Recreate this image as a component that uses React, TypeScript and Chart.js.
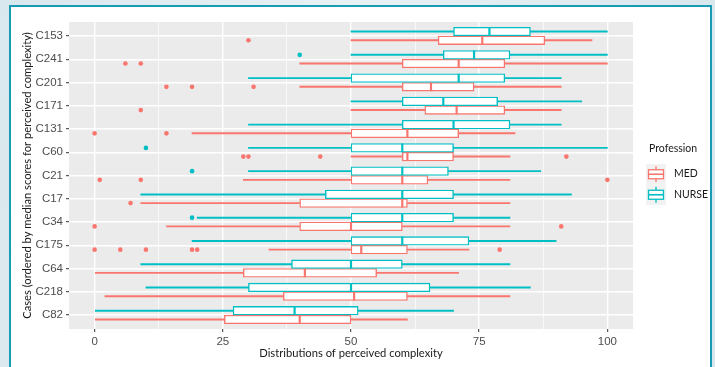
import React, { useEffect, useRef } from 'react';
import { Chart, registerables } from 'chart.js';

Chart.register(...registerables);

// ---------- DATA ----------
const cases = ['C153', 'C241', 'C201', 'C171', 'C131', 'C60', 'C21', 'C17', 'C34', 'C175', 'C64', 'C218', 'C82'];

const xGridValues = [0, 12.5, 25, 37.5, 50, 62.5, 75, 87.5, 100];
const xTickLabels = [0, 25, 50, 75, 100];

// NURSE five-number summaries (per case, same order as `cases`)
const nurseMin = [50, 50, 30, 50, 30, 30, 30, 9, 20, 19, 9, 10, 0];
const nurseQ1 = [70, 68, 50, 60, 60, 50, 50, 45, 50, 50, 38.4, 30, 27];
const nurseMedian = [77, 74, 71, 68, 70, 60, 60, 60, 60, 60, 50, 50, 39];
const nurseQ3 = [85, 81, 80, 78.6, 81, 70, 69, 70, 70, 73, 60, 65.4, 51.4];
const nurseMax = [100, 100, 91, 95, 91, 100, 87, 93, 81, 90, 81, 85, 70];
const nurseOutliers = [[], [40], [], [], [], [10], [19], [], [19], [], [], [], []];

// MED five-number summaries
const medMin = [50, 40, 40, 50, 19, 50, 29, 9, 14, 34, 0, 2, 0];
const medQ1 = [67, 60, 60, 64.4, 50, 60, 50, 40, 40, 50, 29, 36.8, 25.3];
const medMedian = [75.6, 71, 65.6, 70.6, 61, 61, 60, 60, 50, 52, 41, 50.6, 40];
const medQ3 = [87.8, 80, 74, 80, 71, 70, 65, 61, 60, 61, 55, 61, 50];
const medMax = [97, 100, 91, 91, 82, 81, 81, 81, 81, 73, 71, 81, 61];
const medOutliers = [[30], [6, 9], [14, 19, 31], [9], [0, 14], [29, 30, 44, 92], [1, 9, 100], [7], [0, 91], [0, 5, 10, 19, 20, 79], [], [], []];

const groups = ['MED', 'NURSE'];

// ---------- STYLE ----------
const MED_COLOR = '#F8766D';
const NURSE_COLOR = '#00BFC4';
const DODGE = 0.1875; // half of dodge width (0.75 / 4)
const BOX_PX = 8.7;

const TICK_FONT = { family: '"Liberation Sans", Arial, sans-serif', size: 11.5 };
const TITLE_FONT = { family: 'Lato, "Open Sans", sans-serif', size: 11.2 };

function buildGroupDatasets(
  label: string,
  color: string,
  offset: number,
  mins: number[],
  q1s: number[],
  meds: number[],
  q3s: number[],
  maxs: number[],
  outs: number[][]
) {
  const pos = (i: number) => i + offset;
  return [
    {
      type: 'bar' as const,
      label: label + ' whisker',
      indexAxis: 'y' as const,
      grouped: false,
      data: cases.map((_, i) => ({ x: [mins[i], maxs[i]], y: pos(i) })),
      backgroundColor: color,
      borderWidth: 0,
      barThickness: 1.3,
      order: 4,
    },
    {
      type: 'bar' as const,
      label: label + ' box',
      indexAxis: 'y' as const,
      grouped: false,
      data: cases.map((_, i) => ({ x: [q1s[i], q3s[i]], y: pos(i) })),
      backgroundColor: '#FFFFFF',
      borderColor: color,
      borderWidth: 1.4,
      borderSkipped: false,
      barThickness: BOX_PX,
      order: 3,
    },
    {
      type: 'scatter' as const,
      label: label + ' median',
      data: cases.map((_, i) => ({ x: meds[i], y: pos(i) })),
      pointStyle: 'line',
      rotation: 90,
      radius: BOX_PX / 2,
      borderColor: color,
      borderWidth: 2.2,
      order: 1,
    },
    {
      type: 'scatter' as const,
      label: label + ' outliers',
      data: outs.flatMap((vals, i) => vals.map((v) => ({ x: v, y: pos(i) }))),
      pointStyle: 'circle',
      radius: 2.3,
      backgroundColor: color,
      borderWidth: 0,
      order: 0,
    },
  ];
}

const panelBg = {
  id: 'panelBg',
  beforeDraw(chart: any) {
    const { ctx, chartArea } = chart;
    ctx.save();
    ctx.fillStyle = '#EBEBEB';
    ctx.fillRect(chartArea.left, chartArea.top, chartArea.right - chartArea.left, chartArea.bottom - chartArea.top);
    ctx.restore();
  },
};

const boxLegend = {
  id: 'boxLegend',
  afterDraw(chart: any) {
    const { ctx } = chart;
    ctx.save();
    ctx.font = '10.5px Lato, "Open Sans", sans-serif';
    ctx.fillStyle = '#1A1A1A';
    ctx.textBaseline = 'middle';
    ctx.textAlign = 'left';
    ctx.fillText('Profession', 649, 148.5);
    const colors: Record<string, string> = { MED: MED_COLOR, NURSE: NURSE_COLOR };
    const keyX = 646;
    const keySize = 20.5;
    const keyTop = 164;
    groups.forEach((g, k) => {
      const top = keyTop + k * keySize;
      const cy = top + keySize / 2;
      ctx.fillStyle = '#F2F2F2';
      ctx.fillRect(keyX, top, 20, keySize);
      const color = colors[g];
      ctx.strokeStyle = color;
      ctx.lineWidth = 1.3;
      ctx.beginPath();
      ctx.moveTo(keyX + 10, cy - 8);
      ctx.lineTo(keyX + 10, cy - 4.5);
      ctx.moveTo(keyX + 10, cy + 4.5);
      ctx.lineTo(keyX + 10, cy + 8);
      ctx.stroke();
      ctx.fillStyle = '#FFFFFF';
      ctx.fillRect(keyX + 2.5, cy - 4.5, 15, 9);
      ctx.strokeRect(keyX + 2.5, cy - 4.5, 15, 9);
      ctx.lineWidth = 1.6;
      ctx.beginPath();
      ctx.moveTo(keyX + 2.5, cy);
      ctx.lineTo(keyX + 17.5, cy);
      ctx.stroke();
      ctx.fillStyle = '#1A1A1A';
      ctx.fillText(g, 674, cy - 0.5);
    });
    ctx.restore();
  },
};

export default function App() {
  const canvasRef = useRef<HTMLCanvasElement | null>(null);

  useEffect(() => {
    if (!canvasRef.current) return;
    const datasets: any[] = [
      ...buildGroupDatasets('NURSE', NURSE_COLOR, -DODGE, nurseMin, nurseQ1, nurseMedian, nurseQ3, nurseMax, nurseOutliers),
      ...buildGroupDatasets('MED', MED_COLOR, DODGE, medMin, medQ1, medMedian, medQ3, medMax, medOutliers),
    ];
    const chart = new Chart(canvasRef.current, {
      type: 'bar',
      data: { datasets },
      options: {
        animation: false,
        responsive: false,
        events: [],
        layout: { padding: { left: 10, right: 82, top: 22, bottom: 0 } },
        plugins: {
          legend: { display: false },
          tooltip: { enabled: false },
        },
        scales: {
          x: {
            type: 'linear',
            min: -5,
            max: 105,
            offset: false,
            afterBuildTicks: (axis: any) => {
              axis.ticks = xGridValues.map((v) => ({ value: v }));
            },
            afterFit: (axis: any) => {
              axis.height = 38;
            },
            ticks: {
              autoSkip: false,
              maxRotation: 0,
              padding: 3,
              color: '#4D4D4D',
              font: TICK_FONT,
              callback: (v: any) => (xTickLabels.includes(Number(v)) ? String(v) : ''),
            },
            grid: {
              offset: false,
              color: '#FFFFFF',
              lineWidth: (ctx: any) => (xTickLabels.includes(ctx.tick?.value) ? 1.4 : 0.7),
              tickColor: (ctx: any) => (xTickLabels.includes(ctx.tick?.value) ? '#333333' : 'rgba(0,0,0,0)'),
              tickLength: 3,
              tickWidth: 1,
            },
            border: { display: false },
            title: {
              display: true,
              text: 'Distributions of perceived complexity',
              color: '#1A1A1A',
              font: TITLE_FONT,
              padding: { top: 0, bottom: 7 },
            },
          },
          y: {
            type: 'linear',
            min: -0.6,
            max: 12.6,
            reverse: true,
            offset: false,
            afterBuildTicks: (axis: any) => {
              axis.ticks = cases.map((_, i) => ({ value: i }));
            },
            afterFit: (axis: any) => {
              axis.width = 59;
            },
            ticks: {
              autoSkip: false,
              padding: 3,
              color: '#4D4D4D',
              font: TICK_FONT,
              callback: (_v: any, index: number) => cases[index],
            },
            grid: {
              offset: false,
              color: '#FFFFFF',
              lineWidth: 1.4,
              tickColor: '#333333',
              tickLength: 3,
              tickWidth: 1,
            },
            border: { display: false },
            title: {
              display: true,
              text: 'Cases (ordered by median scores for perceived complexity)',
              color: '#1A1A1A',
              font: TITLE_FONT,
              padding: { top: 11, bottom: 0 },
            },
          },
        },
      } as any,
      plugins: [panelBg, boxLegend],
    });
    return () => chart.destroy();
  }, []);

  return (
    <div
      style={{
        position: 'fixed',
        left: 0,
        top: 0,
        width: 715,
        height: 367,
        overflow: 'hidden',
        background: 'linear-gradient(100deg, #d9e8ee 0%, #e8f1f4 45%, #d6e6ec 100%)',
      }}
    >
      <div
        style={{
          position: 'absolute',
          left: 9,
          top: 5,
          width: 703,
          height: 420,
          boxSizing: 'border-box',
          border: '2px solid #1A9BB4',
          background: '#FFFFFF',
        }}
      />
      <canvas ref={canvasRef} width={715} height={367} style={{ position: 'absolute', left: 0, top: 0 }} />
    </div>
  );
}
